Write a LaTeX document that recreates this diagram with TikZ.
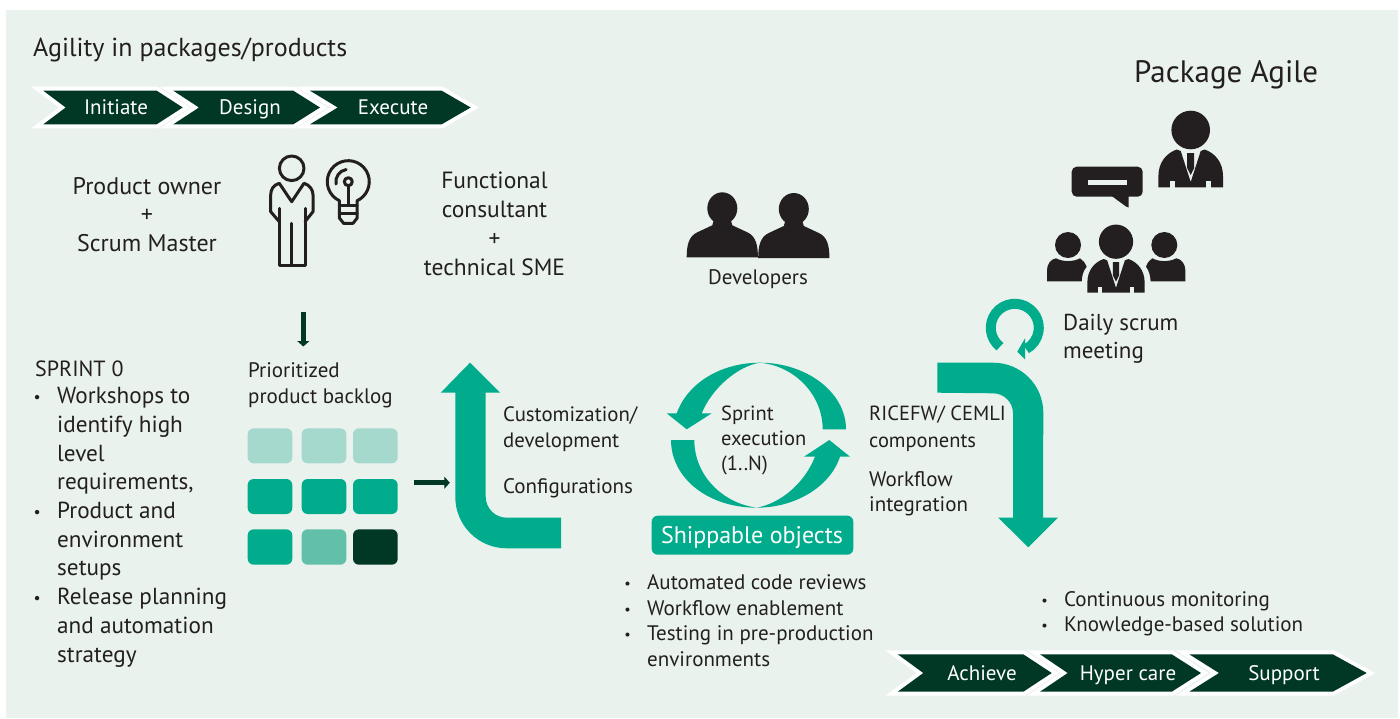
\documentclass[tikz,border=0pt]{standalone}
\usepackage{fontspec}
\usepackage{graphicx}
\setmainfont{PT Sans}
\usetikzlibrary{arrows.meta}
\definecolor{pagegreen}{HTML}{E9F2ED}
\definecolor{deepgreen}{HTML}{003725}
\definecolor{teal}{HTML}{00AC8B}
\definecolor{midteal}{HTML}{62C0A9}
\definecolor{paleteal}{HTML}{A6D9CE}
\definecolor{ink}{HTML}{231F20}
\newcommand{\bul}{\llap{\raisebox{1pt}{\scalebox{0.68}{\textbullet}}\hspace{16.5pt}}}
\tikzset{
  txt/.style={anchor=base west, inner sep=0pt, text=ink, align=left, font=\fontsize{#1}{#1}\selectfont},
  ctxt/.style={anchor=base, inner sep=0pt, text=ink, align=center, font=\fontsize{#1}{#1}\selectfont},
  chevtxt/.style={anchor=base, inner sep=0pt, text=white, font=\fontsize{21}{21}\selectfont},
  chevback/.style={draw=white, fill=white, line width=8pt, miter limit=10},
  chevfront/.style={fill=deepgreen},
  cell/.style={rounded corners=6pt},
  icon/.style={draw=ink, line width=3pt, line join=round, line cap=round},
  darrow/.style={draw=deepgreen, line width=5.5pt, -{Triangle[width=12pt,length=5.5pt]}},
  suitman/.pic={
    \fill[ink] (0,0) circle (19.3pt);
    \fill[ink] (-32.3,57.3) -- (-32.3,46) .. controls (-32.3,32) and (-24,23) .. (-14,19.5) -- (-10,21) -- (0,52) -- (10,21) -- (14,19.5) .. controls (24,23) and (32.3,32) .. (32.3,46) -- (32.3,57.3) -- cycle;
    \fill[ink] (-3.5,23) -- (3.5,23) -- (3.5,38) -- (0,45) -- (-3.5,38) -- cycle;
    \fill[pagegreen] (-20.7,50.7) rectangle (-15.3,57.6);
    \fill[pagegreen] (15.3,50.7) rectangle (20.7,57.6);
  },
  devman/.pic={
    \fill[ink] (0,0) ellipse (15pt and 16pt);
    \fill[ink] (-35.6,49) .. controls (-35.6,38) and (-34,28) .. (-25,24) -- (-10,17) -- (-8,10) -- (8,10) -- (10,17) -- (25,24) .. controls (34,28) and (35.6,38) .. (35.6,49) -- cycle;
  },
}
\begin{document}
\begin{tikzpicture}[x=1pt, y=-1pt]
  \useasboundingbox (0,0) rectangle (1400,718);
  \fill[pagegreen] (6,10) rectangle (1398,718);

  \node[txt=26] (agility) at (33,56) {Agility in packages/products};
  \node[txt=31] (packageagile) at (1134,82) {Package Agile};

  % chevrons: left, shoulder, tip, notch, top, bottom
  \foreach \xa/\xb/\xc/\xd/\ya/\yb in {43.3/156.7/182.7/65.7/90.7/124.3, 173.3/293.3/320/199/90.7/124.3, 310/441.7/470.7/337.7/90.7/124.3,
      897.7/1023.3/1051.7/923.3/654.3/691.7, 1040/1171.7/1201/1067.7/654.3/691.7, 1189.3/1332.7/1366.7/1219/654.3/691.7}
    \path[chevback] (\xa,\ya) -- (\xb,\ya) -- (\xc,{(\ya+\yb)/2}) -- (\xb,\yb) -- (\xa,\yb) -- (\xd,{(\ya+\yb)/2}) -- cycle;
  \foreach \xa/\xb/\xc/\xd/\ya/\yb in {43.3/156.7/182.7/65.7/90.7/124.3, 173.3/293.3/320/199/90.7/124.3, 310/441.7/470.7/337.7/90.7/124.3,
      897.7/1023.3/1051.7/923.3/654.3/691.7, 1040/1171.7/1201/1067.7/654.3/691.7, 1189.3/1332.7/1366.7/1219/654.3/691.7}
    \fill[chevfront] (\xa,\ya) -- (\xb,\ya) -- (\xc,{(\ya+\yb)/2}) -- (\xb,\yb) -- (\xa,\yb) -- (\xd,{(\ya+\yb)/2}) -- cycle;
  \node[chevtxt] (initiate) at (116,114) {Initiate};
  \node[chevtxt] (design) at (250,114) {Design};
  \node[chevtxt] (execute) at (393,114) {Execute};
  \node[chevtxt] (achieve) at (982,680) {Achieve};
  \node[chevtxt] (hypercare) at (1128,680) {Hyper care};
  \node[chevtxt] (support) at (1284,680) {Support};

  \node[ctxt=24] (owner) at (147,251) {Product owner\\[4.5pt]+\\[4.5pt]Scrum Master};
  \node[ctxt=23.5] (consultant) at (494.5,275) {Functional\\[5.5pt]consultant\\[5.5pt]+\\[5.5pt]technical SME};

  % person outline
  \draw[icon] (291.7,168.3) circle (12.3pt);
  \draw[icon] (279.3,183.3) -- (291.7,201.7) -- (304,183.3) .. controls (310,185) and (313,190) .. (313,195) -- (313,211.7) -- (305,221.7);
  \draw[icon] (279.3,183.3) .. controls (273,185) and (270.7,190) .. (270.7,195) -- (270.7,211.7) -- (279.3,221.7);
  \draw[icon] (279.3,208.3) -- (279.3,265) -- (305,265) -- (305,208.3);
  \draw[icon] (291.7,223.3) -- (291.7,265);

  % bulb
  \draw[icon] (339.4,200.7) arc [start angle=245, end angle=-65, radius=21pt] -- (357.2,218) -- (353,223.3) -- (343.6,223.3) -- (339.4,218) -- cycle;
  \draw[icon] (339.4,205) -- (357.2,205);
  \draw[icon] (339.4,213.3) -- (357.2,213.3);
  \draw[icon] (348.3,186) -- (348.3,205);
  \draw[icon] (348.3,181.7) circle (4pt);
  \draw[icon] (336,184) arc [start angle=190, end angle=100, radius=12.5pt];

  % developers
  \path (722.3,208.3) pic {devman};
  \path (793.8,209) pic {devman};
  \node[ctxt=21] (developers) at (758,284) {Developers};

  % daily meeting figures
  \path (1190.7,130) pic {suitman};
  \path (1116,241.7) pic[scale=0.887] {suitman};
  \fill[ink, rounded corners=5pt] (1071.7,166.7) rectangle (1142.7,196.7);
  \fill[ink] (1111.7,196) -- (1126,206.5) -- (1128.5,207.5) -- (1128.5,196) -- cycle;
  \fill[pagegreen] (1087.7,180) rectangle (1126.7,184.7);
  \fill[ink] (1068,245) circle (13pt);
  \fill[ink] (1047,281.3) -- (1047,270) .. controls (1047,264) and (1051,259) .. (1056,258.3) .. controls (1063,262) and (1073,262) .. (1080,258.3) .. controls (1083,260) and (1085,263) .. (1086.7,266.7) .. controls (1083,271) and (1082,276) .. (1081.7,281.3) -- cycle;
  \fill[ink] (1164.3,245) circle (13pt);
  \fill[ink] (1185.3,281.3) -- (1185.3,270) .. controls (1185.3,264) and (1181.3,259) .. (1176.3,258.3) .. controls (1169.3,262) and (1159.3,262) .. (1152.3,258.3) .. controls (1149.3,260) and (1147.3,263) .. (1146,266.7) .. controls (1149.3,271) and (1150.3,276) .. (1150.6,281.3) -- cycle;

  % loop arrow
  \draw[teal, line width=10pt] (1000,346.7) arc [start angle=232, end angle=-62, radius=24pt];
  \fill[teal] (1017.3,351.7) -- (1025,338.3) -- (1025,359.3) -- cycle;
  \node[txt=23] (daily) at (1063,358) {Daily scrum\\[5pt]meeting};

  % backlog
  \node[txt=21] (backlog) at (248,403) {Prioritized\\[5pt]product backlog};
  \coordinate (ownerarrowtop) at (303.3,311.7);
  \coordinate (ownerarrowtip) at (303.3,346.5);
  \draw[darrow] (ownerarrowtop) -- (ownerarrowtip);
  \fill[cell, paleteal] (247.7,428.3) rectangle (292.3,463.3);
  \fill[cell, paleteal] (301.7,428.3) rectangle (346.3,463.3);
  \fill[cell, paleteal] (353,428.3) rectangle (397.7,463.3);
  \fill[cell, teal] (247.7,479) rectangle (292.3,514);
  \fill[cell, teal] (301.7,479) rectangle (346.3,514);
  \fill[cell, teal] (353,479) rectangle (397.7,514);
  \fill[cell, teal] (247.7,529.3) rectangle (292.3,564.7);
  \fill[cell, midteal] (301.7,529.3) rectangle (346.3,564.7);
  \fill[cell, deepgreen] (353,529.3) rectangle (397.7,564.7);
  \coordinate (backlogarrowtail) at (414,482.7);
  \coordinate (backlogarrowtip) at (449.8,482.7);
  \draw[darrow] (backlogarrowtail) -- (backlogarrowtip);

  % big arrows
  \fill[teal] (470,362.7) -- (500,392.7) -- (485.7,392.7) -- (485.7,496.7) arc [start angle=180, end angle=270, radius=21pt] -- (561,517.7) -- (561,548.3) -- (506.7,548.3) arc [start angle=270, end angle=180, radius=51.4pt] -- (455.3,392.7) -- (440.7,392.7) -- cycle;
  \fill[teal] (937.3,362.7) -- (993.3,362.7) arc [start angle=90, end angle=0, radius=50pt] -- (1043,517.7) -- (1058,517.7) -- (1028.3,547.3) -- (998.3,517.7) -- (1013,517.7) -- (1013,413.3) arc [start angle=0, end angle=90, radius=20pt] -- (937.3,392.7) -- cycle;

  % sprint circle
  \fill[teal] (846,429.3) .. controls (846,392) and (806,362.7) .. (760,362.7) .. controls (722,362.7) and (688,382) .. (676.7,413.3) -- (666.7,413.3) -- (686.7,429.3) -- (711.7,413.3) -- (701.7,413.3) .. controls (712,388) and (738,366) .. (760,362.7) .. controls (795,366) and (822.7,395) .. (822.7,429.3) -- cycle;
  \fill[teal] (671,440) .. controls (671,478) and (708,507.7) .. (756.7,507.7) .. controls (795,507.7) and (830,487) .. (840,456.7) -- (850,456.7) -- (829.3,440) -- (804,456.7) -- (815,456.7) .. controls (805,482) and (782,503) .. (756.7,507.7) .. controls (722,503) and (694.3,475) .. (694.3,440) -- cycle;
  \node[txt=20.5] (sprint) at (721,470) {Sprint\\[4.5pt]execution\\[4.5pt](1..N)};
  \fill[teal, rounded corners=6pt] (651.7,515.7) rectangle (853.3,554.7);
  \node[anchor=base, inner sep=0pt, text=white, font=\fontsize{24}{24}\selectfont] (shippable) at (752,543) {Shippable objects};

  \node[txt=20.8] (custom) at (503,447) {Customization/\\[5.2pt]development};
  \node[txt=21] (config) at (503,493) {Configurations};
  \node[txt=20.5] (ricefw) at (869,447) {RICEFW/ CEMLI\\[6.5pt]components};
  \node[txt=21] (workflow) at (869,511) {Workflow\\[4pt]integration};

  \node[txt=21] (reviews) at (647,666) {\bul Automated code reviews\\[4.5pt]\bul Workflow enablement\\[4.5pt]\bul Testing in pre-production\\[4.5pt]environments};
  \node[txt=21] (monitoring) at (1064,631) {\bul Continuous monitoring\\[4pt]\bul Knowledge-based solution};

  \node[txt=22] (sprintzero) at (35,376) {SPRINT 0};
  \node[txt=23.2] (sprintlist) at (57,662) {\bul Workshops to\\[5.5pt]identify high\\[5.5pt]level\\[5.5pt]requirements,\\[5.5pt]\bul Product and\\[5.5pt]environment\\[5.5pt]setups\\[5.5pt]\bul Release planning\\[5.5pt]and automation\\[5.5pt]strategy};
\end{tikzpicture}
\end{document}
